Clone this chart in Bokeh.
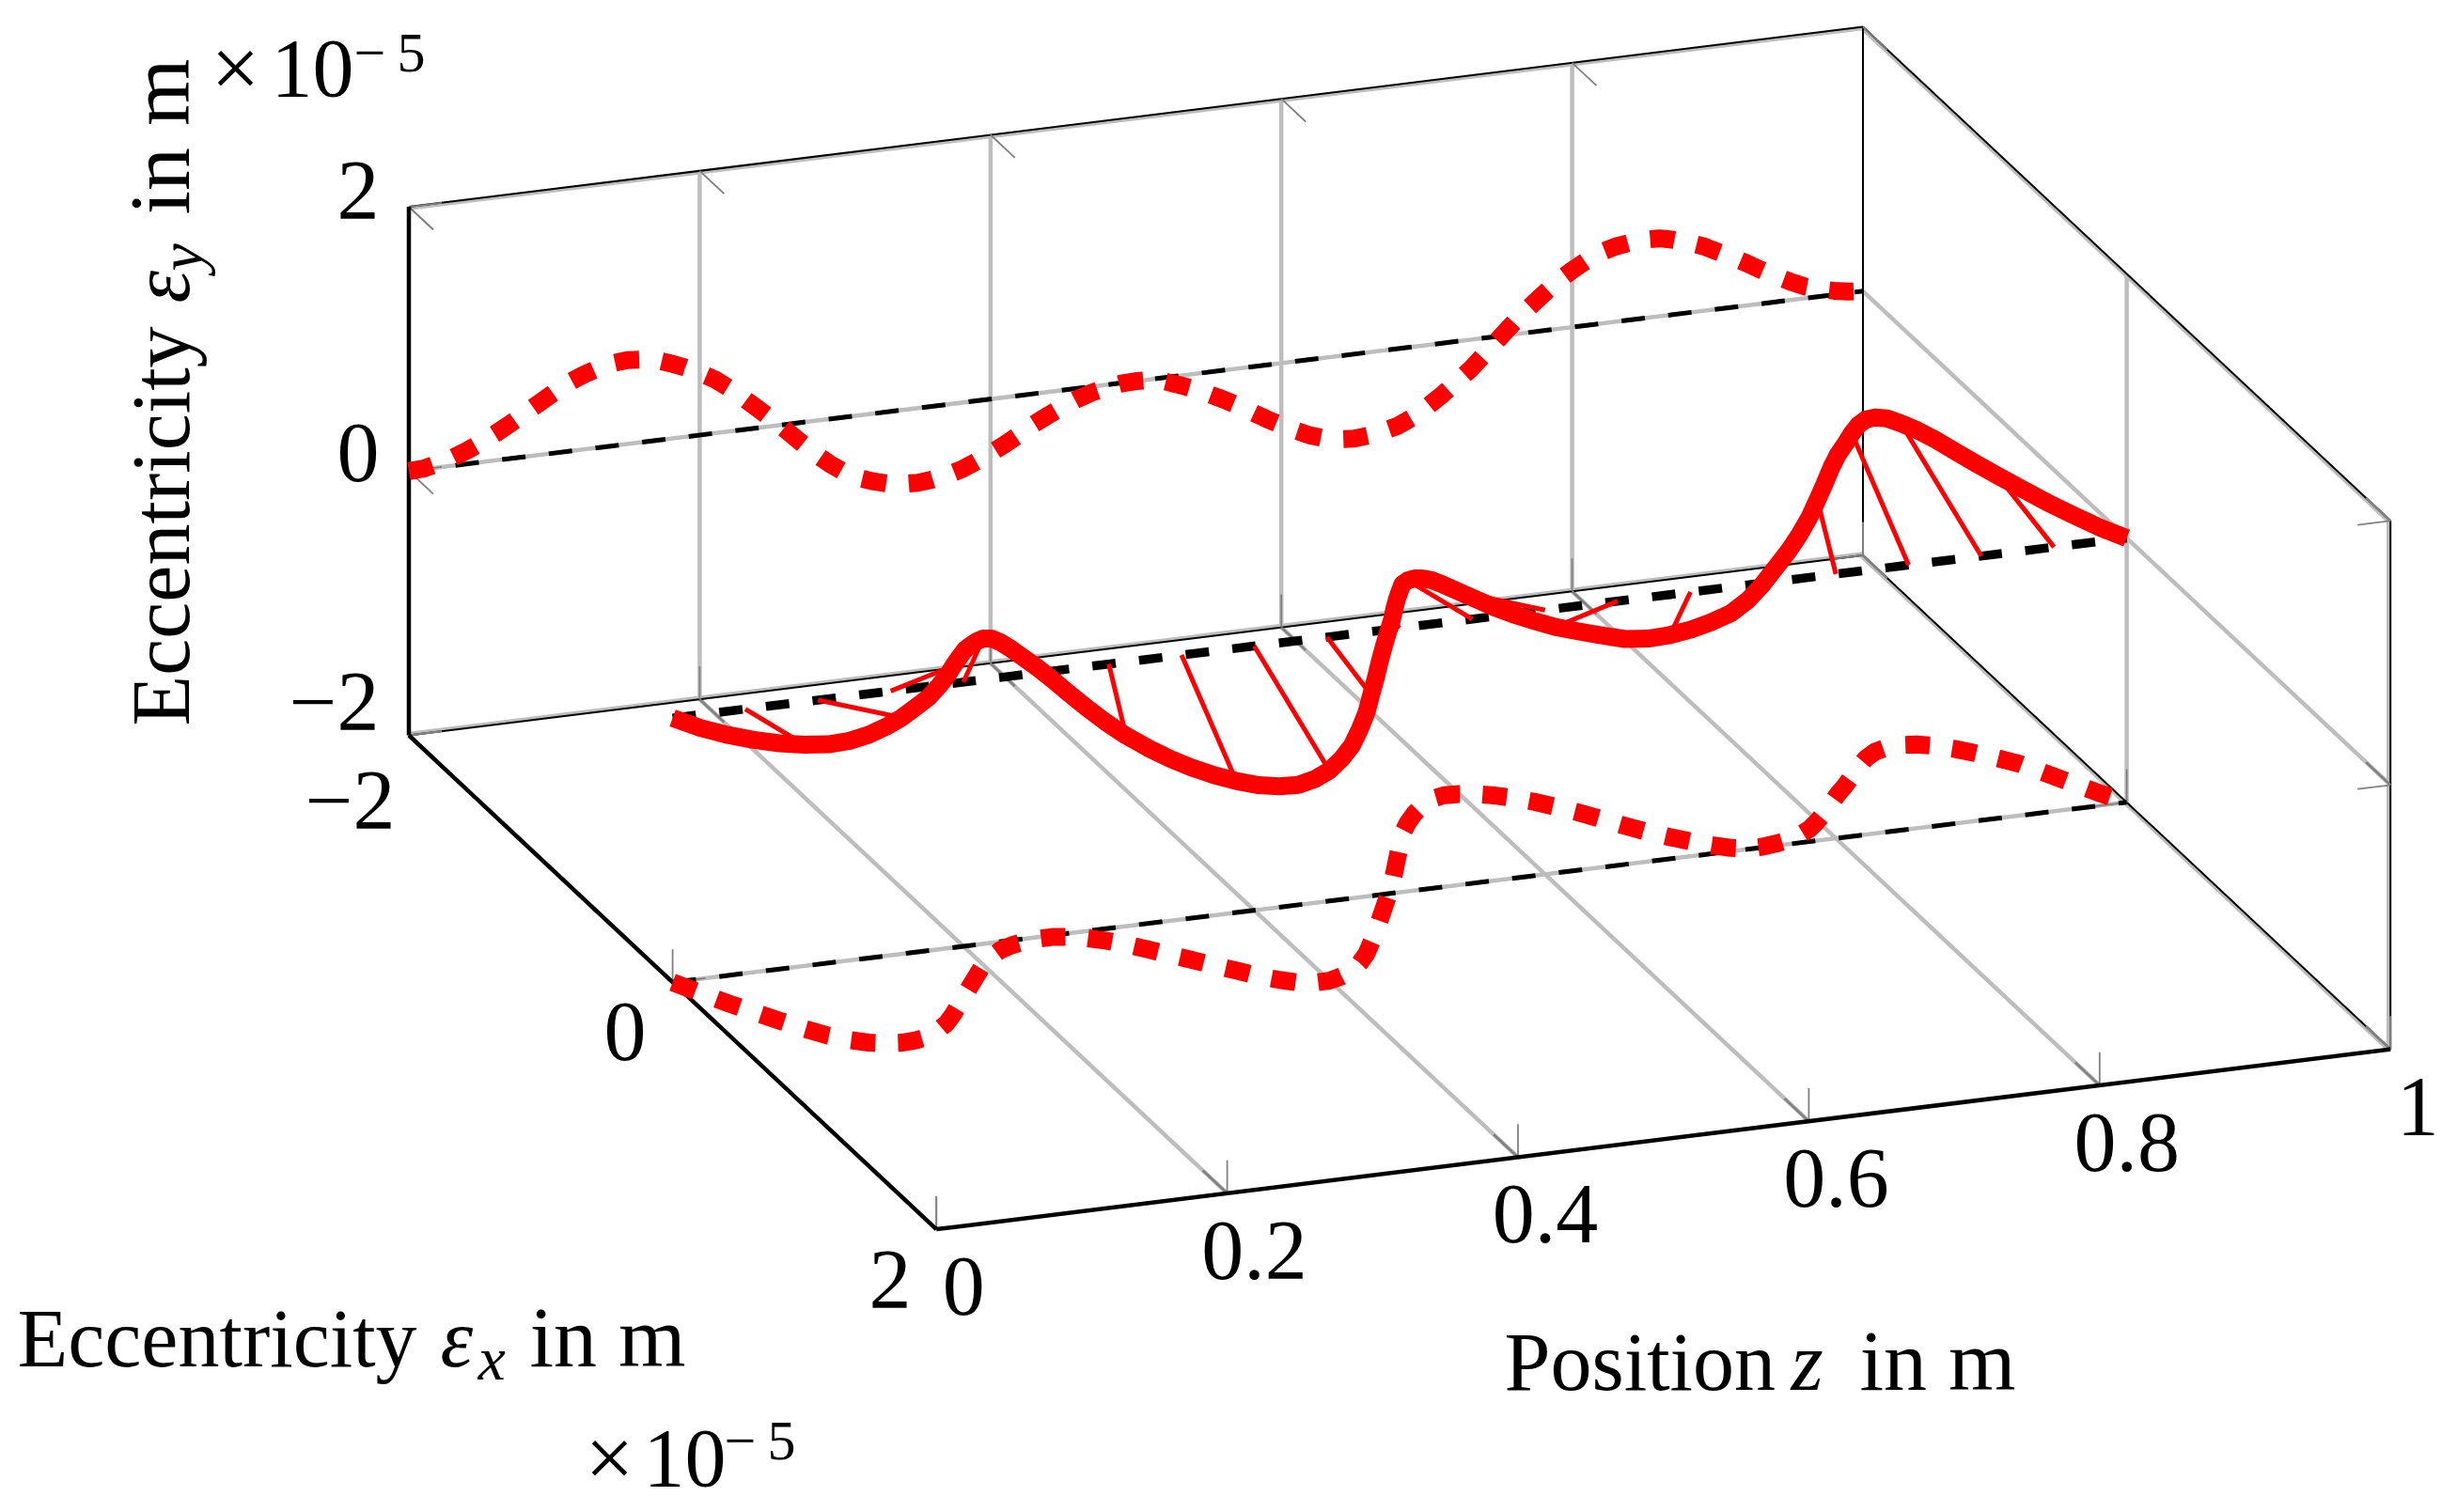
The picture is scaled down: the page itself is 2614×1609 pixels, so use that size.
import numpy as np
from bokeh.plotting import figure
from bokeh.models import Range1d
from bokeh.core.properties import value
from bokeh.embed import file_html
from bokeh.resources import INLINE

# Data (values in 1e-5 m, position in m)
pos_z = [i / 100 for i in range(101)]
ecc_x = [0, .10, .199, .285, .37, .45, .52, .57, .605, .625,
         .635, .63, .615, .58, .535, .475, .41, .345, .28, .215,
         .15, .10, .06, .035, .02, .012, .012, .025, .05, .085,
         .13, .185, .245, .30, .36, .415, .475, .52, .555, .57,
         .57, .55, .52, .47, .41, .335, .26, .18, .10, .02,
         -.06, -.15, -.24, -.33, -.42, -.49, -.55, -.60, -.64, -.655,
         -.65, -.635, -.61, -.575, -.53, -.475, -.415, -.345, -.275, -.21,
         -.155, -.105, -.06, -.025, -.005, -.005, -.015, -.03, -.055, -.09,
         -.14, -.195, -.255, -.315, -.37, -.43, -.49, -.545, -.585, -.605,
         -.61, -.60, -.575, -.535, -.485, -.43, -.37, -.275, -.18, -.085, 0]
ecc_y = [0, .005, .03, .06, .10, .15, .205, .265, .33, .395,
         .46, .52, .565, .60, .625, .635, .625, .61, .57, .525,
         .47, .41, .33, .24, .145, .05, -.05, -.155, -.255, -.345,
         -.42, -.475, -.515, -.545, -.56, -.565, -.555, -.535, -.505, -.46,
         -.41, -.355, -.295, -.23, -.175, -.125, -.08, -.045, -.02, -.005,
         0, -.005, -.03, -.07, -.115, -.165, -.22, -.28, -.345, -.41,
         -.47, -.525, -.575, -.61, -.63, -.64, -.63, -.61, -.585, -.535,
         -.47, -.395, -.31, -.225, -.12, -.015, .09, .185, .275, .36,
         .43, .49, .54, .57, .585, .595, .59, .565, .53, .49,
         .435, .38, .32, .255, .195, .14, .09, .055, .03, .01, 0]
stem_z = [.05, .10, .15, .20, .25, .30, .35, .40, .45, .50, .55, .60, .65, .70, .75, .80, .85, .90, .95]
stem_x = [.45, .635, .475, .15, .012, .13, .415, .57, .335, -.06, -.49, -.65, -.475, -.155, -.005, -.14, -.43, -.61, -.43]
stem_y = [.15, .46, .635, .47, .05, -.42, -.565, -.41, -.125, 0, -.165, -.47, -.64, -.47, -.015, .43, .595, .435, .14]
z_ticks = [0, .2, .4, .6, .8, 1]
z_tick_labels = ["0", "0.2", "0.4", "0.6", "0.8", "1"]
xy_ticks = [-2, 0, 2]

# Projection of the 3D box on the page (pixels of the reference image)
O = np.array([434.5, 782.0])
EZ = np.array([1547.0, -191.5])
EX = np.array([140.3, 131.4])
EY = np.array([0.0, -140.6])


def proj(z, x, y, shift=(0, 0)):
    z, x, y = np.broadcast_arrays(np.asarray(z, float), np.asarray(x, float), np.asarray(y, float))
    return (O[0] + EZ[0] * z + EX[0] * (x + 2) + EY[0] * (y + 2) + shift[0],
            O[1] + EZ[1] * z + EX[1] * (x + 2) + EY[1] * (y + 2) + shift[1])


p = figure(width=2606, height=1601, output_backend="svg", toolbar_location=None,
           x_range=Range1d(0, 2606), y_range=Range1d(1601, 0),
           x_axis_type=None, y_axis_type=None, min_border=0)
p.grid.visible = False
p.outline_line_color = None

GREY = "#bdbdbd"
DARK = "#808080"


def seg(a, b, color, width, shift=(0, 0), dash="solid"):
    xs, ys = proj([a[0], b[0]], [a[1], b[1]], [a[2], b[2]], shift)
    p.line(xs, ys, line_color=color, line_width=width, line_dash=dash, line_cap="butt")


# grid
for z in z_ticks[1:-1]:
    seg((z, -2, -2), (z, -2, 2), GREY, 4.5)
    seg((z, -2, -2), (z, 2, -2), GREY, 4.5)
seg((0, -2, 0), (1, -2, 0), GREY, 4.5)
seg((0, 0, -2), (1, 0, -2), GREY, 4.5)
seg((1, 0, -2), (1, 0, 2), GREY, 4.5)
seg((1, -2, 0), (1, 2, 0), GREY, 4.5)

# box edges: a grey grid line beside a thin black one
edges = [((0, -2, -2), (1, -2, -2), (0, -2)), ((0, -2, 2), (1, -2, 2), (0, 2)),
         ((1, -2, -2), (1, 2, -2), (-2, 1)), ((1, -2, 2), (1, 2, 2), (-1, 2)),
         ((1, 2, -2), (1, 2, 2), (-2.5, 0))]
for a, b, s in edges:
    seg(a, b, GREY, 3.5, s)
    seg(a, b, "black", 2)
seg((1, -2, -2), (1, -2, 2), "black", 2)

# ticks
LZ, LX, LY = .0226, .185, .25
for z in z_ticks:
    seg((z, 2, -2), (z, 2, -2 + LY), DARK, 1.8)
    seg((z, 2, -2), (z, 2 - LX, -2), DARK, 2.6)
    seg((z, -2, -2), (z, -2, -2 + LY), DARK, 1.8)
    seg((z, -2, -2), (z, -2 + LX, -2), DARK, 2.6)
    seg((z, -2, 2), (z, -2 + LX, 2), DARK, 1.8)
for t in xy_ticks:
    seg((0, -2, t), (0, -2 + LX, t), DARK, 1.8)
    seg((0, -2, t), (LZ, -2, t), DARK, 1.8)
    seg((1, 2, t), (1 - LZ, 2, t), DARK, 1.8)
    seg((1, 2, t), (1, 2 - LX, t), DARK, 2.6)
    seg((0, t, -2), (0, t, -2 + LY), DARK, 1.8)
    seg((0, t, -2), (LZ, t, -2), DARK, 1.8)
    seg((1, t, -2), (1, t, -2 + LY), DARK, 1.8)
    seg((1, t, -2), (1 - LZ, t, -2), DARK, 1.8)

# thick front axes
seg((0, -2, -2), (0, -2, 2), "black", 4.5)
seg((0, -2, -2), (0, 2, -2), "black", 4.5)
seg((0, 2, -2), (1, 2, -2), "black", 4.5)

# dashed reference lines
seg((0, -2, 0), (1, -2, 0), "black", 5, dash="25 25")
seg((0, 0, -2), (1, 0, -2), "black", 5, dash="25 25")
seg((0, 0, 0), (1, 0, 0), "black", 9.5, dash="25 25")

# stems from the centre line to the curve
sz, sx, sy = np.array(stem_z), np.array(stem_x), np.array(stem_y)
for z, x, y in zip(sz, sx, sy):
    seg((z, 0, 0), (z, x, y), "#ff0000", 5)

# projections of the curve on the wall and the floor, and the curve itself
zz, xx, yy = np.array(pos_z), np.array(ecc_x), np.array(ecc_y)
wx, wy = proj(zz, -2, yy)
p.line(wx, wy, line_color="#ff0000", line_width=19, line_dash="26 24", line_cap="butt", line_join="round")
fx, fy = proj(zz, xx, -2)
p.line(fx, fy, line_color="#ff0000", line_width=19, line_dash="26 24", line_cap="butt", line_join="round")
cx, cy = proj(zz, xx, yy)
p.line(cx, cy, line_color="#ff0000", line_width=19, line_cap="butt", line_join="round")

FONT = "Liberation Serif"
LIFT = 0.39  # the renderer centres "alphabetic" text on its anchor


def label(x, y, s, size=88, align="left", italic=False, rot=False):
    if rot:
        x -= LIFT * size
    else:
        y -= LIFT * size
    p.text([x], [y], text=[s], text_font=value(FONT), text_font_size=value(f"{size}px"),
           text_align=align, text_baseline="alphabetic", text_color="black",
           text_font_style="italic" if italic else "normal", angle=np.pi / 2 if rot else 0.0)


# tick labels
label(403, 238, "2", 90, "right")
label(403, 517, "0", 90, "right")
label(403, 782, "\u22122", 90, "right")
label(420, 887, "\u22122", 90, "right")
label(687, 1133, "0", 90, "right")
label(969, 1397, "2", 90, "right")
for z, s in zip(z_ticks, z_tick_labels):
    tx, ty = proj(z, 2, -2)
    label(float(tx) + 29, float(ty) + 96, s, 90, "center")

# axis labels
label(1600, 1483, "Position", 88)
label(1905, 1483, "z", 88, italic=True)
label(1978, 1483, "in m", 92)

label(18, 1458, "Eccentricity", 88)
label(468, 1458, "\u03b5", 88, italic=True)
label(508, 1471, "x", 66, italic=True)
label(563, 1458, "in m", 92)

label(622, 1586, "\u00d7", 92)
label(684, 1586, "10", 88)
label(770, 1556, "\u2212", 60)
label(816, 1556, "5", 60)

label(205, 772, "Eccentricity", 88, rot=True)
label(205, 322, "\u03b5", 88, italic=True, rot=True)
label(218, 288, "y", 66, italic=True, rot=True)
label(205, 228, "in m", 92, rot=True)

label(224, 107, "\u00d7", 92)
label(288, 107, "10", 88)
label(376, 79, "\u2212", 60)
label(422, 79, "5", 60)

open("out.html", "w").write(file_html(p, INLINE))
